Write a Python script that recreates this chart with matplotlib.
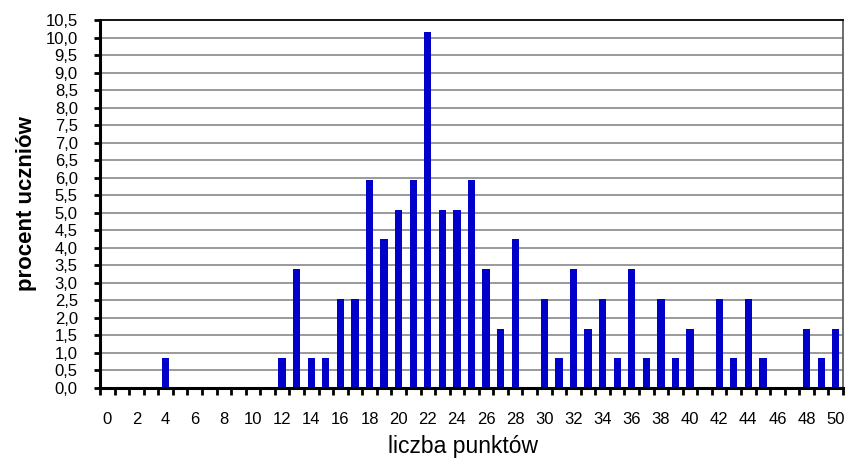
import matplotlib
matplotlib.use("Agg")
import matplotlib.pyplot as plt
import numpy as np

points = list(range(0, 51))
percent = [0, 0, 0, 0, 0.85, 0, 0, 0, 0, 0, 0, 0, 0.85, 3.39, 0.85, 0.85, 2.54, 2.54,
           5.93, 4.24, 5.08, 5.93, 10.17, 5.08, 5.08, 5.93, 3.39, 1.69, 4.24, 0,
           2.54, 0.85, 3.39, 1.69, 2.54, 0.85, 3.39, 0.85, 2.54, 0.85, 1.69, 0,
           2.54, 0.85, 2.54, 0.85, 0, 0, 1.69, 0.85, 1.69]
y_ticks = [i * 0.5 for i in range(22)]
y_tick_labels = [f"{v:.1f}".replace(".", ",") for v in y_ticks]
x_label_vals = list(range(0, 51, 2))

plt.rcParams['font.family'] = ['Liberation Sans', 'DejaVu Sans']

fig = plt.figure(figsize=(8.48, 4.59), dpi=100)
ax = fig.add_axes([100/848, 1 - 388/459, 743/848, 368/459])

ax.set_axisbelow(True)
for v in y_ticks[1:-1]:
    ax.axhline(v, color='#929292', lw=1.3, zorder=0)

ax.bar(points, percent, width=0.5, color='#0000C8', zorder=2)

ax.set_xlim(-0.5, 50.5)
ax.set_ylim(0, 10.5)

ax.set_yticks(y_ticks)
ax.set_yticklabels(y_tick_labels, fontsize=12)
ax.tick_params(axis='y', direction='out', length=4, width=2, color='black', pad=12)

ax.set_xticks(x_label_vals)
ax.set_xticklabels([str(v) for v in x_label_vals], fontsize=12)
ax.set_xticks(np.arange(-0.5, 51, 1.0), minor=True)
ax.tick_params(axis='x', which='major', length=0, pad=17)
ax.tick_params(axis='x', which='minor', direction='out', length=5, width=2, color='black')

ax.spines['left'].set_linewidth(2.2)
ax.spines['bottom'].set_linewidth(2.2)
ax.spines['top'].set_linewidth(1.3)
ax.spines['top'].set_color('black')
ax.spines['right'].set_linewidth(1.3)
ax.spines['right'].set_color('#606060')

ax.set_xlabel('liczba punktów', fontsize=16.5)
ax.xaxis.set_label_coords(0.489, -59/368, transform=ax.transAxes)
ax.xaxis.label.set_va('center')
ax.set_ylabel('procent uczniów', fontsize=16, fontweight='bold', labelpad=6)

fig.savefig('out.png', dpi=100)
